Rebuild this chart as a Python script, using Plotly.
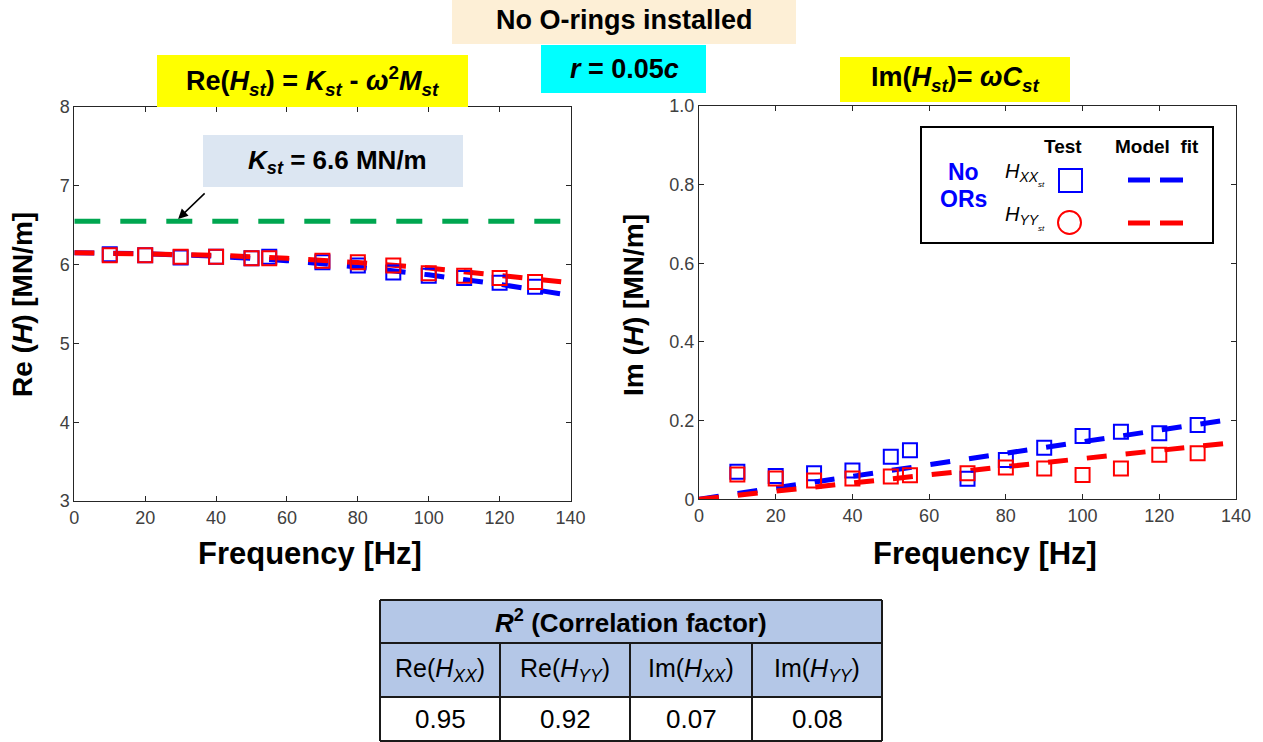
import plotly.graph_objects as go

W, H = 1263, 742

# ---------------- data ----------------
freq = [10, 20, 30, 40, 50, 55, 70, 80, 90, 100, 110, 120, 130]
re_hxx = [6.13, 6.12, 6.09, 6.10, 6.08, 6.10, 6.03, 5.99, 5.90, 5.86, 5.83, 5.77, 5.72]
re_hyy = [6.12, 6.12, 6.10, 6.10, 6.08, 6.08, 6.05, 6.03, 5.99, 5.89, 5.86, 5.83, 5.78]
im_hxx = [0.070, 0.059, 0.066, 0.073, 0.108, 0.125, 0.052, 0.100, 0.131, 0.161, 0.172, 0.168, 0.189]
im_hyy = [0.063, 0.053, 0.048, 0.053, 0.058, 0.061, 0.066, 0.081, 0.078, 0.062, 0.078, 0.113, 0.117]

fit_freq = [0, 20, 40, 60, 80, 100, 120, 140]
re_fit_xx = [6.15, 6.139, 6.106, 6.05, 5.97, 5.87, 5.75, 5.61]
re_fit_yy = [6.15, 6.142, 6.119, 6.08, 6.026, 5.956, 5.87, 5.77]
im_fit_freq = [0, 140]
im_fit_xx = [0.0, 0.205]
im_fit_yy = [0.0, 0.145]

kst_freq = [0, 140]
kst_val = [6.55, 6.55]

re_ticks = [3, 4, 5, 6, 7, 8]
im_ticks = [0, 0.2, 0.4, 0.6, 0.8, 1.0]
im_ticklabels = ["0", "0.2", "0.4", "0.6", "0.8", "1.0"]
x_ticks = [0, 20, 40, 60, 80, 100, 120, 140]

table_title = "<b><i>R</i><sup>2</sup> (Correlation factor)</b>"
table_heads = ["Re(<i>H<sub>XX</sub></i>)", "Re(<i>H<sub>YY</sub></i>)",
               "Im(<i>H<sub>XX</sub></i>)", "Im(<i>H<sub>YY</sub></i>)"]
table_vals = ["0.95", "0.92", "0.07", "0.08"]

BLUE = "#0000ff"
RED = "#ff0000"
GREEN = "#00a650"
FONT = "Liberation Sans, Arial, sans-serif"
AX = "#262626"
FIT_DASH = "20px,19px"


def px(x):
    return x / W


def py(y):
    return 1 - y / H


fig = go.Figure()

# ---------------- left plot ----------------
fig.add_trace(go.Scatter(x=kst_freq, y=kst_val, mode="lines", xaxis="x", yaxis="y",
                         line=dict(color=GREEN, width=5, dash="26px,20px"), showlegend=False))
fig.add_trace(go.Scatter(x=fit_freq, y=re_fit_xx, mode="lines", xaxis="x", yaxis="y",
                         line=dict(color=BLUE, width=5, dash=FIT_DASH), showlegend=False))
fig.add_trace(go.Scatter(x=fit_freq, y=re_fit_yy, mode="lines", xaxis="x", yaxis="y",
                         line=dict(color=RED, width=5, dash=FIT_DASH), showlegend=False))
fig.add_trace(go.Scatter(x=freq, y=re_hxx, mode="markers", xaxis="x", yaxis="y",
                         marker=dict(symbol="square-open", size=14, color=BLUE, line=dict(width=2, color=BLUE)),
                         showlegend=False))
fig.add_trace(go.Scatter(x=freq, y=re_hyy, mode="markers", xaxis="x", yaxis="y",
                         marker=dict(symbol="square-open", size=14, color=RED, line=dict(width=2, color=RED)),
                         showlegend=False))

# ---------------- right plot ----------------
fig.add_trace(go.Scatter(x=im_fit_freq, y=im_fit_xx, mode="lines", xaxis="x2", yaxis="y2",
                         line=dict(color=BLUE, width=5, dash=FIT_DASH), showlegend=False))
fig.add_trace(go.Scatter(x=im_fit_freq, y=im_fit_yy, mode="lines", xaxis="x2", yaxis="y2",
                         line=dict(color=RED, width=5, dash=FIT_DASH), showlegend=False))
fig.add_trace(go.Scatter(x=freq, y=im_hxx, mode="markers", xaxis="x2", yaxis="y2",
                         marker=dict(symbol="square-open", size=14, color=BLUE, line=dict(width=2, color=BLUE)),
                         showlegend=False))
fig.add_trace(go.Scatter(x=freq, y=im_hyy, mode="markers", xaxis="x2", yaxis="y2",
                         marker=dict(symbol="square-open", size=14, color=RED, line=dict(width=2, color=RED)),
                         showlegend=False))

axis_common = dict(showgrid=False, zeroline=False, showline=True, linecolor=AX, linewidth=1,
                   mirror="ticks", ticks="inside", ticklen=5, tickcolor=AX, automargin=False,
                   tickfont=dict(family=FONT, size=18, color="#404040"))

fig.update_layout(
    width=W, height=H,
    margin=dict(l=0, r=0, t=0, b=0, pad=0),
    paper_bgcolor="white", plot_bgcolor="white",
    xaxis=dict(domain=[px(74.3), px(570.5)], range=[0, 140], tickvals=x_ticks, anchor="y", **axis_common),
    yaxis=dict(domain=[py(501), py(107)], range=[3, 8], tickvals=re_ticks, anchor="x", **axis_common),
    xaxis2=dict(domain=[px(699), px(1236)], range=[0, 140], tickvals=x_ticks, anchor="y2", **axis_common),
    yaxis2=dict(domain=[py(499.3), py(106)], range=[0, 1], tickvals=im_ticks, ticktext=im_ticklabels,
                anchor="x2", **axis_common),
)

shapes = []
ann = []


def box(x0, y0, x1, y1, fill, line_color=None, lw=0):
    shapes.append(dict(type="rect", xref="paper", yref="paper", x0=px(x0), x1=px(x1), y0=py(y1), y1=py(y0),
                       fillcolor=fill, line=dict(color=line_color or fill, width=lw), layer="above"))


def text(x, y, s, size, color="black", family=FONT, angle=0, xanchor="center"):
    ann.append(dict(xref="paper", yref="paper", x=px(x), y=py(y), text=s, showarrow=False,
                    font=dict(family=family, size=size, color=color), textangle=angle,
                    xanchor=xanchor, yanchor="middle"))


# header boxes
box(452, 0, 796, 44, "#fdefd6")
text(624, 20, "<b>No O-rings installed</b>", 27)
box(541, 45, 706, 93, "#00ffff")
text(624, 69, "<b><i>r</i> = 0.05<i>c</i></b>", 27)
box(157, 55, 468, 107, "#ffff00")
text(312, 81, "<b>Re(<i>H<sub>st</sub></i>) = <i>K<sub>st</sub></i> - <i>ω</i><sup>2</sup><i>M<sub>st</sub></i></b>", 27)
box(840, 57, 1070, 102, "#ffff00")
text(955, 79, "<b>Im(<i>H<sub>st</sub></i>)= <i>ω</i><i>C<sub>st</sub></i></b>", 27)

# Kst annotation box
box(203, 135, 463, 187, "#dce6f2")
text(337, 161, "<b><i>K<sub>st</sub></i> = 6.6 MN/m</b>", 26)
ann.append(dict(xref="x", yref="y", x=29.3, y=6.58, ax=28, ay=-27, axref="pixel", ayref="pixel",
                text="", showarrow=True, arrowhead=2, arrowsize=1.3, arrowwidth=1.5, arrowcolor="black"))

# axis titles
text(22, 305, "<b>Re (<i>H</i>) [MN/m]</b>", 28, angle=-90)
text(633, 305, "<b>Im (<i>H</i>) [MN/m]</b>", 28, angle=-90)
text(310, 553, "<b>Frequency [Hz]</b>", 31)
text(985, 553, "<b>Frequency [Hz]</b>", 31)

# legend box
box(921, 127, 1213, 243, "white", "black", 2)
text(1063, 146, "<b>Test</b>", 19)
text(1157, 146, "<b>Model  fit</b>", 19)
text(963, 172, "<b>No</b>", 23, color=BLUE)
text(963, 199, "<b>ORs</b>", 23, color=BLUE)
text(1003, 172, "<i>H<sub>XX</sub></i>", 20, xanchor="left")
text(1036, 185, "<i>st</i>", 8, xanchor="left")
text(1003, 215, "<i>H<sub>YY</sub></i>", 20, xanchor="left")
text(1036, 228, "<i>st</i>", 8, xanchor="left")
shapes.append(dict(type="rect", xref="paper", yref="paper", x0=px(1059), x1=px(1082), y0=py(192), y1=py(169),
                   line=dict(color=BLUE, width=2), fillcolor="rgba(0,0,0,0)", layer="above"))
shapes.append(dict(type="circle", xref="paper", yref="paper", x0=px(1058), x1=px(1081), y0=py(234), y1=py(211),
                   line=dict(color=RED, width=2), fillcolor="rgba(0,0,0,0)", layer="above"))
for (yy, col) in [(180, BLUE), (223, RED)]:
    for (a, b) in [(1128, 1150), (1160, 1183)]:
        shapes.append(dict(type="line", xref="paper", yref="paper", x0=px(a), x1=px(b), y0=py(yy), y1=py(yy),
                           line=dict(color=col, width=5), layer="above"))

# table
cols = [380, 500, 630, 752, 882]
rows = [600, 643, 697, 741]
box(cols[0], rows[0], cols[-1], rows[1], "#b4c7e7")
box(cols[0], rows[1], cols[-1], rows[2], "#b4c7e7")
for r in rows:
    shapes.append(dict(type="line", xref="paper", yref="paper", x0=px(cols[0]), x1=px(cols[-1]),
                       y0=py(r), y1=py(r), line=dict(color="#1a1a1a", width=2), layer="above"))
for i, c in enumerate(cols):
    shapes.append(dict(type="line", xref="paper", yref="paper", x0=px(c), x1=px(c),
                       y0=py(rows[0] if i in (0, len(cols) - 1) else rows[1]), y1=py(rows[-1]),
                       line=dict(color="#1a1a1a", width=2), layer="above"))
text((cols[0] + cols[-1]) / 2, (rows[0] + rows[1]) / 2, table_title, 26)
for i in range(4):
    cx = (cols[i] + cols[i + 1]) / 2
    text(cx, (rows[1] + rows[2]) / 2, table_heads[i], 25)
    text(cx, (rows[2] + rows[3]) / 2, table_vals[i], 26)

fig.update_layout(shapes=shapes, annotations=ann)
fig.write_html("out.html", config={"displayModeBar": False},
               post_script="document.body.style.margin='0';document.body.style.padding='0';"
                           "document.body.style.overflow='hidden';")
